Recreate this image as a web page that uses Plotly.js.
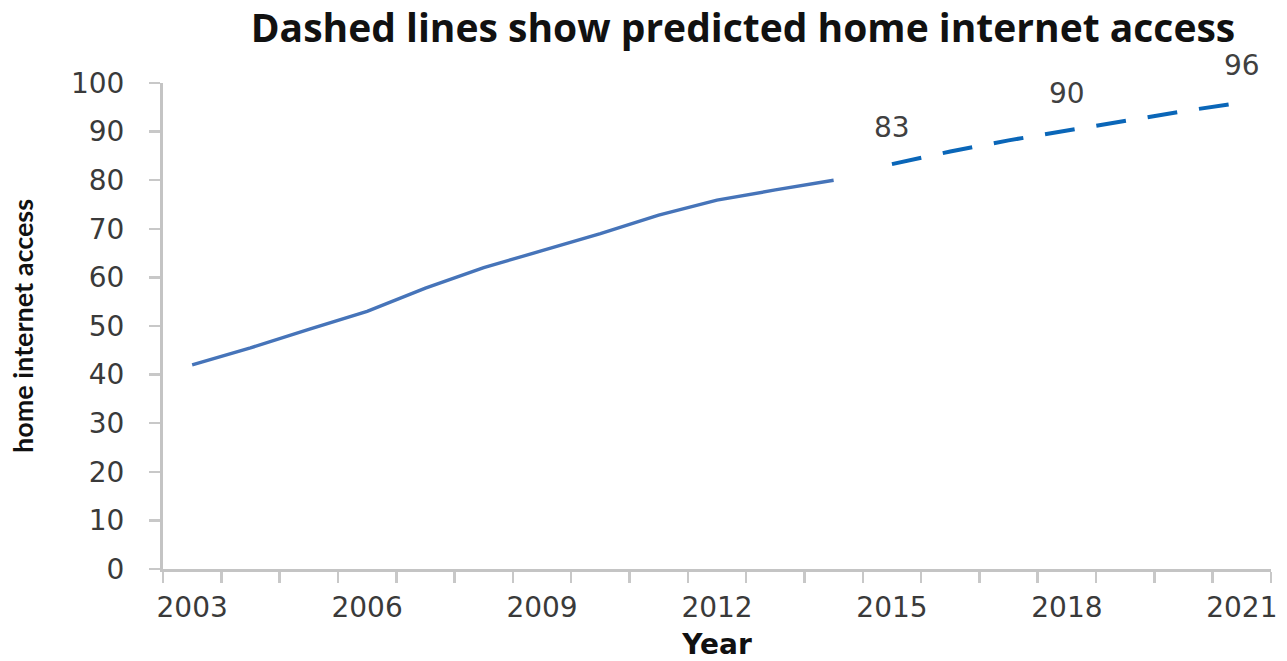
<!DOCTYPE html>
<html>
<head>
<meta charset="utf-8">
<script src="https://cdn.plot.ly/plotly-3.0.1.min.js"></script>
<style>
  html, body { margin: 0; padding: 0; background: #ffffff; }
  #chart { width: 1287px; height: 661px; }
</style>
</head>
<body>
<div id="chart"></div>
<script>
// Actual home internet access (solid line)
const actualYears = [2003, 2004, 2005, 2006, 2007, 2008, 2009, 2010, 2011, 2012, 2013, 2014];
const actualValues = [42, 45.5, 49.3, 53, 57.8, 62, 65.5, 69, 72.8, 75.9, 78, 80];

// Predicted home internet access (dashed line)
const predictedYears = [2015, 2016, 2017, 2018, 2019, 2020, 2021];
const predictedValues = [83.3, 85.9, 88.2, 90.2, 92.3, 94.2, 96];

// Data labels shown on the predicted line
const labelYears = [2015, 2018, 2021];
const labelTexts = ['83', '90', '96'];

// Axis tick labels
const xTickYears = [2003, 2006, 2009, 2012, 2015, 2018, 2021];
const yTickValues = [0, 10, 20, 30, 40, 50, 60, 70, 80, 90, 100];

const traces = [
  {
    x: actualYears, y: actualValues, type: 'scatter', mode: 'lines',
    line: { color: '#4674b9', width: 3.4 }, hoverinfo: 'x+y', showlegend: false
  },
  {
    x: predictedYears, y: predictedValues, type: 'scatter', mode: 'lines',
    line: { color: '#0a66b8', width: 4, dash: '30px,22px' }, hoverinfo: 'x+y', showlegend: false
  }
];

const annotations = labelYears.map((yr, i) => ({
  x: yr, y: predictedValues[predictedYears.indexOf(yr)],
  xref: 'x', yref: 'y', text: labelTexts[i], showarrow: false,
  yshift: 37, xanchor: 'center', yanchor: 'middle',
  font: { family: 'DejaVu Sans, Verdana, sans-serif', size: 28, color: '#404040' }
}));

const layout = {
  width: 1287, height: 661,
  margin: { l: 163, r: 16, t: 83, b: 92 },
  paper_bgcolor: '#ffffff', plot_bgcolor: '#ffffff',
  title: {
    text: '<b>Dashed lines show predicted home internet access</b>',
    xref: 'container', yref: 'container',
    x: 743 / 1287, y: 1 - 28 / 661, xanchor: 'center', yanchor: 'middle',
    font: { family: 'Open Sans, Lato, sans-serif', size: 39, color: '#111111' }
  },
  xaxis: {
    range: [2002.5, 2021.5],
    tickmode: 'array', tickvals: xTickYears, ticktext: xTickYears.map(String),
    ticks: '', showgrid: false, zeroline: false,
    showline: true, linecolor: '#c4c4c4', linewidth: 3,
    tickfont: { family: 'DejaVu Sans, Verdana, sans-serif', size: 28, color: '#3a3a3a' },
    ticklabelstandoff: 11,
    minor: { tick0: 2002.5, dtick: 1, ticks: 'outside', ticklen: 11, tickwidth: 2.5, tickcolor: '#c8c8c8', showgrid: false },
    title: {
      text: '<b>Year</b>', standoff: 20,
      font: { family: 'DejaVu Sans, Verdana, sans-serif', size: 28, color: '#111111' }
    },
    fixedrange: true
  },
  yaxis: {
    range: [0, 100],
    tickmode: 'array', tickvals: yTickValues,
    ticks: 'outside', ticklen: 11, tickwidth: 2.5, tickcolor: '#c8c8c8',
    showgrid: false, zeroline: false,
    showline: true, linecolor: '#c4c4c4', linewidth: 3,
    tickfont: { family: 'DejaVu Sans, Verdana, sans-serif', size: 28, color: '#3a3a3a' },
    ticklabelstandoff: 19,
    title: {
      text: '<b>home internet access</b>', standoff: 30,
      font: { family: 'Lato, Open Sans, sans-serif', size: 27, color: '#111111' }
    },
    fixedrange: true
  },
  annotations: annotations,
  showlegend: false
};

Plotly.newPlot('chart', traces, layout, { displayModeBar: false, staticPlot: true });
</script>
</body>
</html>
